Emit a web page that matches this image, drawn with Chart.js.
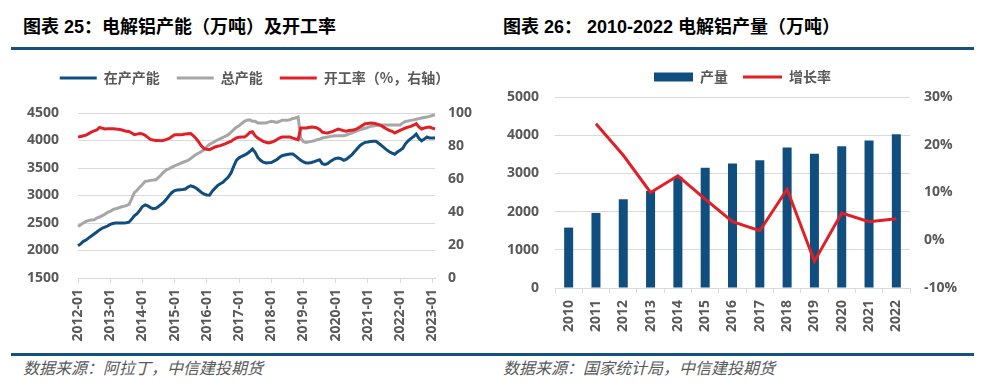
<!DOCTYPE html>
<html lang="zh-CN">
  <head>
    <meta charset="UTF-8" />
    <title>电解铝产能及产量</title>
    <script src="https://cdn.jsdelivr.net/npm/chart.js"></script>
    <style>
      body {
        margin: 0;
        width: 990px;
        height: 386px;
        background: #fff;
        position: relative;
        overflow: hidden;
        font-family: "Liberation Sans", "Noto Sans CJK SC", sans-serif;
      }
      .titulo {
        position: absolute;
        top: 17px;
        line-height: 20px;
        font-size: 18px;
        font-weight: bold;
        color: #000;
        white-space: nowrap;
      }
      .fonte {
        position: absolute;
        top: 357px;
        line-height: 20px;
        font-size: 16px;
        font-style: italic;
        color: #595959;
        font-family: "Noto Sans CJK SC", sans-serif;
        white-space: nowrap;
      }
      .regua {
        position: absolute;
        left: 11px;
        width: 963px;
        height: 3px;
        background: #145080;
      }
      canvas {
        position: absolute;
      }
    </style>
  </head>
  <body>
    <div class="titulo" style="left: 23px">图表 25：电解铝产能（万吨）及开工率</div>
    <div class="titulo" style="left: 503px">图表 26： 2010-2022 电解铝产量（万吨）</div>
    <div class="regua" style="top: 47px"></div>

    <canvas id="graficoCapacidade" width="495" height="296" style="left: 0; top: 54px"></canvas>
    <canvas id="graficoProducao" width="495" height="295" style="left: 495px; top: 55px"></canvas>

    <div class="regua" style="top: 353px"></div>
    <div class="fonte" style="left: 23px">数据来源：阿拉丁，中信建投期货</div>
    <div class="fonte" style="left: 503px">数据来源：国家统计局，中信建投期货</div>

    <script>
      // Dados mensais 2012-01 .. 2023-02 (万吨 / %)
      const emProducao = [
        2087, 2120, 2166, 2190, 2230, 2265, 2300, 2336, 2375, 2405, 2425, 2445,
        2475, 2490, 2498, 2500, 2500, 2502, 2505, 2515, 2570, 2630, 2670, 2730,
        2800, 2830, 2810, 2780, 2760, 2768, 2800, 2840, 2880, 2935, 3000, 3055,
        3090, 3100, 3106, 3110, 3118, 3155, 3175, 3160, 3135, 3095, 3055, 3025,
        3010, 3005, 3080, 3130, 3180, 3215, 3239, 3290, 3336, 3410, 3530, 3640,
        3685, 3710, 3735, 3760, 3800, 3845, 3784, 3690, 3640, 3605, 3591, 3595,
        3600, 3625, 3650, 3690, 3724, 3735, 3745, 3755, 3755, 3720, 3680, 3640,
        3610, 3591, 3591, 3600, 3615, 3635, 3650, 3580, 3565, 3580, 3620, 3650,
        3675, 3680, 3668, 3640, 3660, 3700, 3740, 3795, 3850, 3905, 3940, 3966,
        3972, 3980, 3988, 3985, 3950, 3910, 3870, 3830, 3795, 3770, 3750, 3790,
        3820, 3860, 3940, 3995, 4035, 4070, 4118, 4040, 3995, 4025, 4064, 4045,
        4045, 4045,
      ];
      const capacidadeTotal = [
        2438, 2470, 2500, 2530, 2548, 2555, 2560, 2590, 2609, 2633, 2660, 2693,
        2710, 2742, 2760, 2773, 2790, 2802, 2815, 2840, 2940, 3050, 3095, 3150,
        3200, 3257, 3265, 3275, 3280, 3287, 3330, 3378, 3430, 3469, 3490, 3515,
        3540, 3560, 3578, 3600, 3620, 3640, 3670, 3712, 3745, 3773, 3800, 3833,
        3890, 3930, 3955, 3984, 4010, 4035, 4055, 4080, 4106, 4150, 4197, 4240,
        4269, 4310, 4348, 4370, 4378, 4348, 4348, 4318, 4318, 4318, 4318, 4335,
        4348, 4340, 4330, 4345, 4366, 4366, 4366, 4380, 4400, 4409, 4427, 4040,
        3980, 3966, 3975, 3984, 3995, 4015, 4025, 4045, 4055, 4065, 4075, 4080,
        4088, 4088, 4088, 4088, 4100, 4120, 4136, 4155, 4175, 4192, 4209, 4222,
        4240, 4257, 4265, 4272, 4278, 4282, 4282, 4282, 4282, 4282, 4282, 4282,
        4282, 4320, 4348, 4356, 4366, 4375, 4385, 4397, 4408, 4418, 4428, 4439,
        4455, 4469,
      ];
      const taxaOperacao = [
        85.4, 85.8, 86.2, 86.6, 87.5, 88.5, 89.2, 89.7, 91.3, 90.8, 90.3, 90.5,
        90.5, 90.4, 90.3, 90.1, 89.9, 89.4, 88.9, 88.8, 87.9, 86.9, 87.2, 87.5,
        87.3, 86.5, 85.2, 84.0, 83.6, 83.4, 83.3, 83.2, 83.5, 84.0, 84.6, 85.8,
        86.8, 86.8, 86.8, 87.0, 87.3, 87.4, 87.5, 86.2, 84.5, 82.3, 80.0, 78.4,
        78.0, 77.8, 78.6, 79.4, 79.8, 80.2, 80.8, 81.4, 82.2, 82.8, 84.0, 84.9,
        85.3, 85.4, 85.4, 86.6, 88.2, 88.6, 86.2, 84.8, 83.8, 82.8, 82.3, 81.8,
        82.3, 82.8, 83.8, 84.8, 85.4, 85.4, 85.4, 85.4, 84.8, 84.3, 83.8, 90.9,
        90.9, 90.9, 91.2, 91.5, 91.3, 91.0, 90.0, 88.4, 88.0, 87.9, 88.4, 88.9,
        89.6, 90.3, 89.8, 89.2, 89.0, 89.4, 89.6, 89.8, 90.5, 91.5, 92.5, 93.5,
        93.7, 93.9, 93.8, 93.5, 93.0, 92.3, 91.3, 90.3, 89.5, 88.9, 87.9, 88.7,
        89.5, 90.2, 90.9, 91.4, 91.9, 92.6, 93.5, 91.5, 90.3, 90.9, 91.3, 91.5,
        90.8, 90.3,
      ];

      // Dados anuais 2010-2022
      const anos = ["2010", "2011", "2012", "2013", "2014", "2015", "2016", "2017", "2018", "2019", "2020", "2021", "2022"];
      const producao = [1581, 1965, 2322, 2540, 2913, 3147, 3261, 3347, 3678, 3512, 3712, 3861, 4025];
      const crescimento = [null, 24.4, 17.8, 10.0, 13.5, 8.6, 3.9, 2.0, 10.7, -4.4, 5.7, 3.9, 4.5];

      // rótulos mensais
      const meses = [];
      for (let ano = 2012; ano <= 2023; ano++) {
        for (let m = 1; m <= 12; m++) {
          meses.push(ano + "-" + String(m).padStart(2, "0"));
        }
      }
      meses.length = emProducao.length;

      const corTexto = "#595959";
      const corGrade = "#d9d9d9";
      const fonteEixo = { family: "'Open Sans', 'Noto Sans CJK SC', sans-serif", size: 14, weight: "bold" };
      const fonteLegenda = { family: "'Noto Sans CJK SC', sans-serif", size: 14, weight: "bold" };
      const semMilhar = (v) => String(v);

      // aumenta o espaço abaixo da legenda
      function espacoLegenda(extra) {
        return {
          id: "espacoLegenda",
          beforeInit(chart) {
            const fitOriginal = chart.legend.fit;
            chart.legend.fit = function () {
              fitOriginal.bind(chart.legend)();
              this.height += extra;
            };
          },
        };
      }

      function legendaItens(chart) {
        return chart.data.datasets.map((ds, i) => ({
          text: ds.label,
          datasetIndex: i,
          pointStyle: ds.type === "bar" ? "rect" : "line",
          fillStyle: ds.backgroundColor,
          strokeStyle: ds.borderColor,
          lineWidth: ds.type === "bar" ? 0 : 3,
          fontColor: corTexto,
          hidden: false,
        }));
      }

      // Gráfico 25
      new Chart(document.getElementById("graficoCapacidade"), {
        type: "line",
        data: {
          labels: meses,
          datasets: [
            {
              type: "line",
              label: "在产产能",
              data: emProducao,
              borderColor: "#104e80",
              backgroundColor: "#104e80",
              borderWidth: 3,
              pointRadius: 0,
              order: 3,
              yAxisID: "y",
            },
            {
              type: "line",
              label: "总产能",
              data: capacidadeTotal,
              borderColor: "#a6a6a6",
              backgroundColor: "#a6a6a6",
              borderWidth: 3,
              pointRadius: 0,
              order: 2,
              yAxisID: "y",
            },
            {
              type: "line",
              label: "开工率（%，右轴）",
              data: taxaOperacao,
              borderColor: "#e01f26",
              backgroundColor: "#e01f26",
              borderWidth: 3,
              pointRadius: 0,
              order: 1,
              yAxisID: "y1",
            },
          ],
        },
        options: {
          responsive: false,
          animation: false,
          layout: { padding: { left: 14, right: 0, top: 0, bottom: 0 } },
          plugins: {
            legend: {
              position: "top",
              labels: {
                usePointStyle: true,
                pointStyleWidth: 37,
                boxHeight: 9,
                padding: 17,
                color: corTexto,
                font: fonteLegenda,
                generateLabels: legendaItens,
              },
            },
            tooltip: { enabled: false },
          },
          scales: {
            x: {
              type: "category",
              afterBuildTicks: (scale) => {
                scale.ticks = scale.ticks.filter((t) => meses[t.value].endsWith("-01"));
              },
              ticks: { autoSkip: false, minRotation: 90, maxRotation: 90, padding: 6, color: corTexto, font: fonteEixo },
              grid: { drawOnChartArea: false, drawTicks: true, tickLength: 5, color: corGrade },
              border: { color: corGrade },
              afterFit: (s) => { s.height = 72; },
            },
            y: {
              position: "left",
              min: 1500,
              max: 4500,
              ticks: { stepSize: 500, padding: 19, color: corTexto, font: fonteEixo, callback: semMilhar },
              grid: { color: corGrade, drawTicks: false },
              border: { display: false },
              afterFit: (s) => { s.width = 64; },
            },
            y1: {
              position: "right",
              min: 0,
              max: 100,
              ticks: { stepSize: 20, padding: 13, color: corTexto, font: fonteEixo, callback: semMilhar },
              grid: { display: false, drawTicks: false },
              border: { display: false },
              afterFit: (s) => { s.width = 60; },
            },
          },
        },
        plugins: [espacoLegenda(18)],
      });

      // Gráfico 26
      new Chart(document.getElementById("graficoProducao"), {
        type: "bar",
        data: {
          labels: anos,
          datasets: [
            {
              type: "bar",
              label: "产量",
              data: producao,
              backgroundColor: "#104e80",
              borderColor: "#104e80",
              borderWidth: 0,
              barPercentage: 0.33,
              categoryPercentage: 1,
              order: 1,
              yAxisID: "y",
            },
            {
              type: "line",
              label: "增长率",
              data: crescimento,
              borderColor: "#e01f26",
              backgroundColor: "#e01f26",
              borderWidth: 3,
              pointRadius: 0,
              order: 0,
              yAxisID: "y1",
            },
          ],
        },
        options: {
          responsive: false,
          animation: false,
          layout: { padding: 0 },
          plugins: {
            legend: {
              position: "top",
              labels: {
                usePointStyle: true,
                pointStyleWidth: 39,
                boxHeight: 9,
                padding: 15,
                color: corTexto,
                font: fonteLegenda,
                generateLabels: legendaItens,
              },
            },
            tooltip: { enabled: false },
          },
          scales: {
            x: {
              ticks: { autoSkip: false, minRotation: 90, maxRotation: 90, padding: 7, color: corTexto, font: fonteEixo },
              grid: { drawOnChartArea: false, drawTicks: true, tickLength: 5, color: corGrade, offset: true },
              border: { color: corGrade },
              afterFit: (s) => { s.height = 62; },
            },
            y: {
              position: "left",
              min: 0,
              max: 5000,
              ticks: { stepSize: 1000, padding: 16, color: corTexto, font: fonteEixo, callback: semMilhar },
              grid: { color: corGrade, drawTicks: false },
              border: { display: false },
              afterFit: (s) => { s.width = 60; },
            },
            y1: {
              position: "right",
              min: -10,
              max: 30,
              ticks: { stepSize: 10, padding: 14, color: corTexto, font: fonteEixo, callback: (v) => v + "%" },
              grid: { display: false, drawTicks: false },
              border: { display: false },
              afterFit: (s) => { s.width = 80; },
            },
          },
        },
        plugins: [espacoLegenda(3)],
      });
    </script>
  </body>
</html>
